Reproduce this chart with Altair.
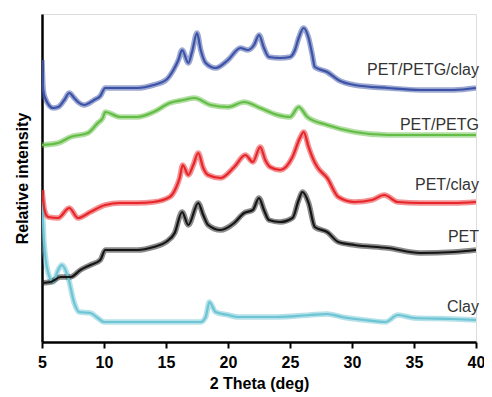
import altair as alt
import pandas as pd

# 2-theta positions and relative intensities (a.u.)
blue_x = [5.0, 5.1, 5.25, 5.9, 6.3, 6.8, 7.2, 7.6, 7.9, 8.4, 9.2, 9.7, 10.1, 11.3, 12.7, 14.0, 15.0, 15.6,
          16.0, 16.3, 16.8, 17.1, 17.5, 17.8, 18.2, 19.0, 20.0, 21.0, 21.6, 22.1, 22.5, 22.9, 23.3, 24.2,
          25.0, 25.4, 25.7, 26.1, 26.5, 26.8, 27.0, 28.0, 28.9, 30.2, 32.9, 35.5, 38.2, 40.0]
blue_y = [282, 252, 244, 234, 235, 242, 249, 244, 240, 237, 242, 246, 254, 254, 254, 257, 262, 272,
          282, 292, 279, 290, 309, 292, 279, 274, 282, 294, 292, 297, 307, 294, 285, 284,
          285, 292, 304, 314, 304, 287, 275, 270, 262, 257, 254, 252, 252, 254]

green_x = [5.0, 6.3, 7.3, 8.7, 9.5, 9.9, 10.1, 11.3, 12.7, 14.0, 15.3, 16.4, 17.3, 18.6, 20.0, 21.3,
           22.6, 24.0, 25.0, 25.7, 26.4, 28.0, 30.2, 32.9, 35.5, 40.0]
green_y = [197, 199, 205, 209, 219, 224, 230, 225, 225, 230, 239, 242, 244, 237, 235, 240,
           234, 227, 225, 235, 225, 217, 210, 207, 207, 207]

red_x = [5.0, 5.2, 5.5, 6.3, 7.2, 7.9, 8.9, 10.1, 11.3, 12.7, 14.0, 15.3, 15.8, 16.1, 16.35, 16.8,
         17.2, 17.6, 18.0, 18.4, 19.4, 20.5, 21.4, 22.0, 22.6, 23.0, 23.4, 24.2, 25.2, 25.8, 26.1,
         26.5, 26.9, 27.2, 28.0, 28.9, 30.2, 31.6, 32.6, 33.7, 35.5, 38.2, 40.0]
red_y = [152, 132, 125, 124, 134, 124, 130, 137, 139, 139, 140, 145, 154, 164, 177, 167,
         177, 189, 174, 167, 164, 175, 187, 180, 195, 182, 175, 172, 185, 204, 210,
         195, 182, 175, 164, 145, 140, 142, 147, 140, 139, 139, 140]

black_x = [5.0, 5.7, 6.5, 7.3, 8.1, 8.9, 9.7, 10.1, 11.3, 12.7, 14.0, 15.0, 15.7, 16.3, 16.8, 17.6,
           18.0, 18.4, 19.4, 20.5, 21.3, 22.0, 22.5, 22.9, 23.3, 24.2, 25.2, 25.7, 26.0, 26.5, 27.0,
           28.0, 28.9, 30.2, 32.9, 35.5, 38.2, 40.0]
black_y = [59, 60, 65, 65, 72, 77, 82, 92, 92, 92, 95, 100, 109, 130, 117, 139,
           127, 117, 112, 119, 129, 132, 144, 132, 122, 120, 124, 142, 150, 139, 115,
           110, 100, 97, 94, 89, 90, 92]

cyan_x = [5.0, 5.15, 5.5, 5.9, 6.3, 6.6, 7.1, 7.6, 8.0, 8.9, 9.5, 10.0, 12.7, 16.6, 17.8, 18.2, 18.5,
          19.0, 20.0, 20.8, 24.0, 26.6, 28.0, 29.2, 31.0, 32.7, 33.7, 35.0, 38.2, 40.0]
cyan_y = [147, 102, 69, 60, 72, 77, 65, 39, 30, 29, 24, 20, 20, 20, 20, 25, 40,
          30, 27, 25, 25, 27, 28, 25, 22, 20, 27, 24, 23, 22]

series_names = ["Clay", "PET", "PET/clay", "PET/PETG", "PET/PETG/clay"]
series_colors = ["#6cc4d4", "#151515", "#e8262a", "#63bd45", "#3b52a6"]
label_y = [35, 105, 157, 217, 272]

xs = [cyan_x, black_x, red_x, green_x, blue_x]
ys = [cyan_y, black_y, red_y, green_y, blue_y]

rows = []
for name, xv, yv in zip(series_names, xs, ys):
    for a, b in zip(xv, yv):
        rows.append({"series": name, "theta": a, "intensity": b})
df = pd.DataFrame(rows)

labels = pd.DataFrame({"series": series_names, "theta": [40] * 5, "intensity": label_y})

xscale = alt.Scale(domain=[5, 40], nice=False, zero=False)
yscale = alt.Scale(domain=[0, 328], nice=False, zero=False)
color = alt.Color("series:N", scale=alt.Scale(domain=series_names, range=series_colors), legend=None)

xaxis = alt.Axis(values=[5, 7.5, 10, 12.5, 15, 17.5, 20, 22.5, 25, 27.5, 30, 32.5, 35, 37.5, 40],
                 labelExpr="datum.value % 5 == 0 ? datum.label : ''",
                 grid=False, domainColor="black", domainWidth=2.5,
                 tickColor="black", tickWidth=2, tickSize=6,
                 labelFont="Liberation Sans", labelFontSize=16, labelFontWeight="bold",
                 labelColor="black", labelPadding=6, labelFlush=False,
                 titleFont="Liberation Sans", titleFontSize=16, titleFontWeight="bold",
                 titleColor="black", titlePadding=5)
yaxis = alt.Axis(labels=False, ticks=False, grid=False, domainColor="black", domainWidth=2.5,
                 titleFont="Liberation Sans", titleFontSize=16, titleFontWeight="bold",
                 titleColor="black", titlePadding=12)

base = alt.Chart(df).encode(
    x=alt.X("theta:Q", scale=xscale, title="2 Theta (deg)", axis=xaxis),
    y=alt.Y("intensity:Q", scale=yscale, title="Relative intensity", axis=yaxis),
    color=color,
    order=alt.Order("theta:Q"),
    detail="series:N",
)

halo = base.mark_line(strokeWidth=5.5, opacity=0.5, interpolate="monotone", clip=True)
lines = base.mark_line(strokeWidth=2.2, interpolate="monotone", clip=True)

texts = alt.Chart(labels).mark_text(align="right", baseline="middle", dx=3,
                                    font="Liberation Sans", fontSize=16, color="#333333").encode(
    x=alt.X("theta:Q", scale=xscale),
    y=alt.Y("intensity:Q", scale=yscale),
    text="series:N",
)

chart = alt.layer(halo, lines, texts).properties(
    width=434, height=328,
    autosize=alt.AutoSizeParams(type="none"),
    padding={"left": 34, "top": 6, "right": 8, "bottom": 54},
).configure_view(stroke=None).configure(background="white")

chart.save("out.html", embed_options={"renderer": "svg", "actions": False})
